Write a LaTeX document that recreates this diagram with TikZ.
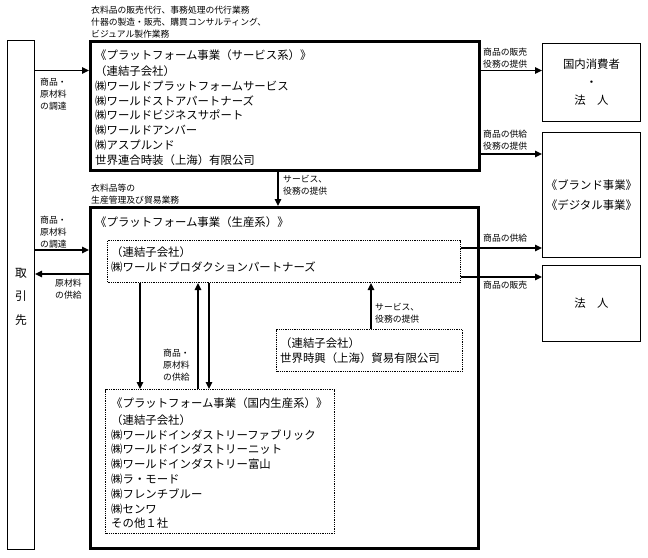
\documentclass[tikz,border=0pt]{standalone}
\usepackage{fontspec}
\setmainfont{Noto Sans CJK JP}
\usetikzlibrary{arrows.meta,positioning}

\begin{document}
\begin{tikzpicture}[x=1pt,y=-1pt,
    box/.style={draw, line width=1.4pt, anchor=north west, inner sep=0pt},
    bigbox/.style={box, line width=2.8pt},
    dotbox/.style={box, line width=1pt, dash pattern=on 1pt off 0.8pt},
    arr/.style={line width=1.3pt, -{Triangle[length=7pt,width=6.5pt]}},
    txt/.style={anchor=north west, align=left, inner sep=0pt, font=\fontsize{11.4}{14.8}\selectfont},
    lbl/.style={anchor=north west, align=left, inner sep=0pt, font=\fontsize{8.8}{12}\selectfont},
    ctr/.style={align=center, inner sep=0pt, font=\fontsize{11.4}{18}\selectfont},
  ]
            \useasboundingbox (0,0) rectangle (648,557);

            \node[box, minimum width=26.6pt, minimum height=508.6pt] (tp) at (7,40) {};
            \node[ctr, font=\fontsize{11.8}{23.5}\selectfont] (tpt) at (tp.center |- 0,296.5) {取\\引\\先};

            \node[bigbox, minimum width=389.2pt, minimum height=129.2pt] (svc) at (89,40) {};
            \node[txt] (svct) at (95,49.5) {《プラットフォーム事業（サービス系）》\\[1.2pt]
                （連結子会社）\\㈱ワールドプラットフォームサービス\\㈱ワールドストアパートナーズ\\
                ㈱ワールドビジネスサポート\\㈱ワールドアンバー\\㈱アスプルンド\\世界連合時装（上海）有限公司};
            \node[lbl] (svcl) at (91,5.5) {衣料品の販売代行、事務処理の代行業務\\什器の製造・販売、購買コンサルティング、\\ビジュアル製作業務};

            \node[box, minimum width=97.6pt, minimum height=77.6pt] (cons) at (542,43) {};
            \node[ctr] (const) at (cons.center) {国内消費者\\・\\法　人};
            \node[box, minimum width=97.6pt, minimum height=124.6pt] (brand) at (542,132) {};
            \node[ctr, font=\fontsize{11.4}{19.5}\selectfont] (brandt) at (brand.center) {《ブランド事業》\\《デジタル事業》};
            \node[box, minimum width=97.6pt, minimum height=75.6pt] (corp) at (542,265) {};
            \node[ctr] (corpt) at (corp.center) {法　人};

            \node[bigbox, minimum width=388.2pt, minimum height=341.2pt] (prod) at (89,206) {};
            \node[txt] (prodt) at (95,216.5) {《プラットフォーム事業（生産系）》};
            \node[lbl] (prodl) at (91,183.5) {衣料品等の\\生産管理及び貿易業務};

            \node[dotbox, minimum width=353pt, minimum height=42pt] (wpp) at (107,240) {};
            \node[txt] (wppt) at (111,247) {（連結子会社）\\㈱ワールドプロダクションパートナーズ};
            \node[dotbox, minimum width=186pt, minimum height=42pt] (sh) at (276,329) {};
            \node[txt] (sht) at (280,337.5) {（連結子会社）\\世界時興（上海）貿易有限公司};
            \node[dotbox, minimum width=229pt, minimum height=144pt] (dom) at (105,389) {};
            \node[txt] (domt) at (111,397.5) {《プラットフォーム事業（国内生産系）》\\[2pt]
                （連結子会社）\\㈱ワールドインダストリーファブリック\\㈱ワールドインダストリーニット\\
                ㈱ワールドインダストリー富山\\㈱ラ・モード\\㈱フレンチブルー\\㈱センワ\\その他１社};

            \coordinate (ya) at (0,70.5);
            \coordinate (yb) at (0,154);
            \coordinate (yc) at (0,250);
            \coordinate (yd) at (0,274);
            \coordinate (ye) at (0,248);
            \coordinate (yf) at (0,277);
            \coordinate (xa) at (278,0);
            \coordinate (xb) at (371,0);
            \coordinate (xc) at (140,0);
            \coordinate (xd) at (198,0);
            \coordinate (xe) at (209,0);

            \draw[arr] (tp.east |- ya) -- (svc.west |- ya);
            \draw[arr] (svc.east |- ya) -- (cons.west |- ya);
            \draw[arr] (svc.east |- yb) -- (brand.west |- yb);
            \draw[arr] (svc.south -| xa) -- (prod.north -| xa);
            \draw[arr] (tp.east |- yc) -- (prod.west |- yc);
            \draw[arr] (prod.west |- yd) -- (tp.east |- yd);
            \draw[arr] (wpp.east |- ye) -- (brand.west |- ye);
            \draw[arr] (wpp.east |- yf) -- (corp.west |- yf);
            \draw[arr] (sh.north -| xb) -- (wpp.south -| xb);
            \draw[arr] (wpp.south -| xc) -- (dom.north -| xc);
            \draw[arr] (wpp.south -| xe) -- (dom.north -| xe);
            \draw[arr] (dom.north -| xd) -- (wpp.south -| xd);

            \node[lbl] (la) at (40,78) {商品・\\原材料\\の調達};
            \node[lbl] (lb) at (483,47.5) {商品の販売\\役務の提供};
            \node[lbl] (lc) at (483,129.5) {商品の供給\\役務の提供};
            \node[lbl] (ld) at (283,175.5) {サービス、\\役務の提供};
            \node[lbl] (le) at (40,215.5) {商品・\\原材料\\の調達};
            \node[lbl] (lf) at (55,278.5) {原材料\\の供給};
            \node[lbl] (lg) at (483,234) {商品の供給};
            \node[lbl] (lh) at (483,280.5) {商品の販売};
            \node[lbl] (li) at (375,303) {サービス、\\役務の提供};
            \node[lbl] (lj) at (163,348.5) {商品・\\原材料\\の供給};
\end{tikzpicture}
\end{document}
